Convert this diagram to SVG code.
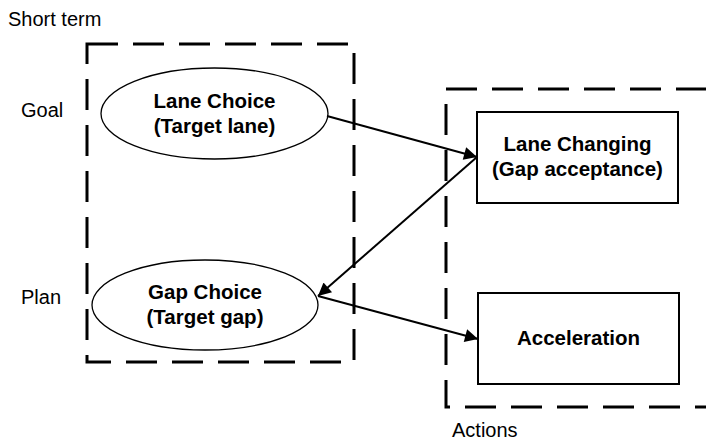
<svg xmlns="http://www.w3.org/2000/svg" width="706" height="441" viewBox="0 0 706 441">
<style>
.lbl{font-family:"Liberation Sans",Arial,sans-serif;font-size:20px;fill:#000}
.nt{font-family:"Liberation Sans",Arial,sans-serif;font-size:20.5px;font-weight:bold;fill:#000;text-anchor:middle}
.grp{fill:none;stroke:#000;stroke-width:3;stroke-dasharray:31 15}
.ell{fill:#fff;stroke:#000;stroke-width:1.3}
.box{fill:#fff;stroke:#000;stroke-width:2}
.con{stroke:#000;stroke-width:2;fill:none;marker-end:url(#ah)}
</style>
<defs>
<marker id="ah" viewBox="0 0 10 10" refX="10" refY="5" markerWidth="19" markerHeight="13" markerUnits="userSpaceOnUse" orient="auto">
<path d="M0,0 L10,5 L0,10 Z" fill="#000"/>
</marker>
</defs>
<rect width="706" height="441" fill="#fff"/>
<g id="groups">
<rect id="shortterm" class="grp" x="87" y="44" width="267" height="318"/>
<rect id="actions" class="grp" x="446" y="89" width="280" height="318"/>
</g>
<g id="labels">
<text class="lbl" x="8" y="26">Short term</text>
<text class="lbl" x="21" y="117">Goal</text>
<text class="lbl" x="21" y="304">Plan</text>
<text class="lbl" x="452" y="437">Actions</text>
</g>
<g id="lanechoice">
<ellipse class="ell" cx="214.5" cy="113.5" rx="113.5" ry="45.5"/>
<text class="nt" x="214.5" y="108">Lane Choice</text>
<text class="nt" x="214.5" y="133">(Target lane)</text>
</g>
<g id="gapchoice">
<ellipse class="ell" cx="205" cy="305" rx="113" ry="45"/>
<text class="nt" x="205" y="299">Gap Choice</text>
<text class="nt" x="205" y="324">(Target gap)</text>
</g>
<g id="lanechanging">
<rect class="box" x="477" y="112" width="201" height="91"/>
<text class="nt" x="577.5" y="151">Lane Changing</text>
<text class="nt" x="577.5" y="176">(Gap acceptance)</text>
</g>
<g id="acceleration">
<rect class="box" x="478" y="293" width="201" height="91"/>
<text class="nt" x="578.5" y="345">Acceleration</text>
</g>
<g id="connectors">
<line class="con" x1="327" y1="116" x2="477" y2="157"/>
<line class="con" x1="477" y1="157" x2="318" y2="296"/>
<line class="con" x1="318" y1="296" x2="478" y2="339"/>
</g>
</svg>
